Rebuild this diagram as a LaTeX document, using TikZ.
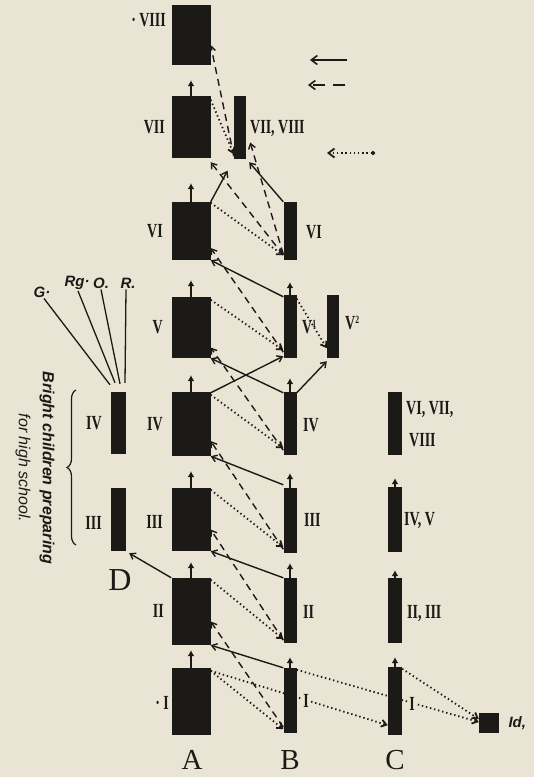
\documentclass[tikz,border=0pt]{standalone}
\usepackage{fontspec}
\setmainfont{Liberation Serif}
\newfontfamily\numfont{Liberation Serif}[FakeStretch=0.7]
\newfontfamily\notefont{Liberation Sans}
\usetikzlibrary{arrows.meta,calc,decorations.pathreplacing}
\definecolor{paper}{HTML}{E9E4D3}
\definecolor{ink}{HTML}{1C1A17}
\pgfdeclarelayer{sheet}
\pgfdeclarelayer{wires}
\pgfsetlayers{sheet,wires,main}
\newcommand{\supnum}[1]{\raisebox{6pt}{\fontsize{11}{11}\selectfont #1}}

\begin{document}
\begin{tikzpicture}[
  x=1pt,y=-1pt,
  every node/.style={text=ink},
  gradeA/.style={fill=ink,minimum width=39pt,inner sep=0pt},
  bar/.style={fill=ink,minimum width=13pt,inner sep=0pt},
  num/.style={font=\numfont\bfseries\fontsize{20}{22}\selectfont,inner sep=1pt},
  colname/.style={font=\fontsize{29}{30}\selectfont,inner sep=0pt},
  note/.style={font=\notefont\bfseries\itshape\fontsize{15}{17}\selectfont,inner sep=1pt},
  rise/.style={draw=ink,line width=1.6pt,-{Latex[length=6pt,width=7pt]}},
  linksolid/.style={draw=ink,line width=1.4pt,-{Straight Barb[length=5pt,width=7pt]}},
  linkdash/.style={linksolid,dash pattern=on 7pt off 5pt},
  linkdot/.style={linksolid,line width=1.8pt,dash pattern=on 1.4pt off 2.8pt},
  fan/.style={draw=ink,line width=1.3pt}
]

% ---- sheet ----
\useasboundingbox (0,0) rectangle (534,777);
\begin{pgfonlayer}{sheet}
  \fill[paper] (0,0) rectangle (534,777);
\end{pgfonlayer}

% ---- column A ----
\node[gradeA,minimum height=60pt] (A8) at (191,35) {};
\node[gradeA,minimum height=62pt] (A7) at (191,127) {};
\node[gradeA,minimum height=58pt] (A6) at (191,231) {};
\node[gradeA,minimum height=61pt] (A5) at (191,327.5) {};
\node[gradeA,minimum height=64pt] (A4) at (191,424) {};
\node[gradeA,minimum height=63pt] (A3) at (191,519.5) {};
\node[gradeA,minimum height=67pt] (A2) at (191,611.5) {};
\node[gradeA,minimum height=67pt] (A1) at (191,701.5) {};

\node[num,anchor=east] (lA8) at (167,20) {·\,VIII};
\node[num,anchor=east] (lA7) at (166,127) {VII};
\node[num,anchor=east] (lA6) at (164,231) {VI};
\node[num,anchor=east] (lA5) at (164,327) {V};
\node[num,anchor=east] (lA4) at (164,424) {IV};
\node[num,anchor=east] (lA3) at (164,522) {III};
\node[num,anchor=east] (lA2) at (165,611) {II};
\node[num,anchor=east] (lA1) at (170,703) {·\,I};

% ---- column B ----
\node[bar,minimum height=65pt] (B1) at (290,700.5) {};
\node[bar,minimum height=65pt] (B2) at (290,610.5) {};
\node[bar,minimum height=65pt] (B3) at (290,520.5) {};
\node[bar,minimum height=63pt] (B4) at (290,423.5) {};
\node[bar,minimum height=63pt] (B5) at (290,326.5) {};
\node[bar,minimum width=12pt,minimum height=63pt] (V2) at (333,326.5) {};
\node[bar,minimum height=58pt] (B6) at (290,231) {};
\node[bar,minimum width=12pt,minimum height=63pt] (B78) at (240,127.5) {};

\node[num,fill=paper] (lB1) at (306,701) {I};
\node[num,anchor=west] (lB2) at (302,612) {II};
\node[num,anchor=west] (lB3) at (303,520) {III};
\node[num,anchor=west] (lB4) at (302,425) {IV};
\node[num,anchor=west] (lB5) at (301,327) {V\supnum{1}};
\node[num,anchor=west] (lV2) at (344,323) {V\supnum{2}};
\node[num,anchor=west] (lB6) at (305,232) {VI};
\node[num,anchor=west] (lB78) at (249,128) {VII, VIII};

% ---- column C ----
\node[bar,minimum width=14pt,minimum height=68pt] (C1) at (395,701) {};
\node[bar,minimum width=14pt,minimum height=65pt] (C23) at (395,610.5) {};
\node[bar,minimum width=14pt,minimum height=65pt] (C45) at (395,519.5) {};
\node[bar,minimum width=14pt,minimum height=63pt] (C678) at (395,423.5) {};
\node[bar,minimum width=20pt,minimum height=20pt] (Id) at (489,723) {};

\node[num,fill=paper] (lC1) at (412,704) {I};
\node[num,anchor=west] (lC23) at (406,613) {II, III};
\node[num,anchor=west] (lC45) at (403,520) {IV, V};
\node[num,anchor=west,align=left] (lC678) at (405,424) {VI, VII,\\[10pt]\hspace*{3pt}VIII};
\node[font=\notefont\bfseries\itshape\fontsize{15}{17}\selectfont,anchor=west] (lId) at (505,723) {Id,};

% ---- column D ----
\node[bar,minimum width=15pt,minimum height=62pt] (D4) at (118.5,423) {};
\node[bar,minimum width=15pt,minimum height=63pt] (D3) at (118.5,519.5) {};
\node[num,anchor=east] (lD4) at (103,423) {IV};
\node[num,anchor=east] (lD3) at (103,523) {III};

\node[note] (lG) at (42,292) {G·};
\node[note] (lRg) at (77,283) {Rg·};
\node[note] (lO) at (101,283) {O.};
\node[note] (lR) at (128,283) {R.};

\draw[fan] ([xshift=2pt]lG.south) -- ([xshift=-8.5pt,yshift=7pt]D4.north);
\draw[fan] ([xshift=1pt]lRg.south) -- ([xshift=-3.5pt,yshift=9pt]D4.north);
\draw[fan] (lO.south) -- ([xshift=1.5pt,yshift=8pt]D4.north);
\draw[fan] ([xshift=-2pt]lR.south) -- ([xshift=6.5pt,yshift=9pt]D4.north);

\draw[decorate,decoration={brace,amplitude=9pt},line width=1.2pt,ink]
  (76,545) -- (76,390);
\node[font=\notefont\bfseries\itshape\fontsize{16}{24}\selectfont,rotate=-90,align=center]
  (bright) at (35,468) {Bright children preparing\\{\mdseries for high school.}};

% ---- column letters ----
\node[colname] (colA) at (192,760) {A};
\node[colname] (colB) at (290,760) {B};
\node[colname] (colC) at (395,760) {C};
\node[colname,font=\fontsize{32}{33}\selectfont] (colD) at (120,580) {D};

% ---- key ----
\coordinate (keyS1) at (347,60);  \coordinate (keyS0) at (310,60);
\coordinate (keyD1) at (345,85);  \coordinate (keyD0) at (308,85);
\coordinate (keyT1) at (375,153); \coordinate (keyT0) at (327,153);

% ---- moves between grades ----
\begin{pgfonlayer}{wires}
% upward steps
\foreach \lo/\hi/\s in {A1/A2/5,A2/A3/11,A3/A4/15,A4/A5/17,A5/A6/20,A6/A7/25,A7/A8/15,
                        B1/B2/14,B2/B3/10,B3/B4/18,B4/B5/20,B5/B6/22,
                        C1/C23/14,C23/C45/18,C45/C678/23}
  \draw[rise,shorten >=\s pt] (\lo.north) -- (\hi.south);

% grade I
\draw[linkdot] ([yshift=-3pt]A1.north east) -- ([yshift=10pt]C1.south west);
\draw[linkdot] ([yshift=-3pt]A1.north east) -- ([yshift=4pt]B1.south west);
\draw[linkdash] ([yshift=6pt]B1.south west) -- ([yshift=-10pt]A2.east);
\draw[linksolid] (B1.north west) -- (A2.south east);
\draw[linkdot] ([yshift=-2pt]B1.north east) -- ([yshift=1pt]Id.west);
\draw[linkdot] ([yshift=-2pt]C1.north east) -- ([yshift=4pt]Id.west);

% grade II
\draw[linkdot] ([yshift=-2pt]A2.north east) -- ([yshift=4pt]B2.south west);
\draw[linkdash] ([yshift=3pt]B2.south west) -- ([yshift=-10pt]A3.east);
\draw[linksolid] (B2.north west) -- (A3.south east);
\draw[linksolid] (A2.north west) -- ([xshift=3pt,yshift=-2pt]D3.south east);

% grade III
\draw[linkdot] ([yshift=-2pt]A3.north east) -- ([yshift=6pt]B3.south west);
\draw[linkdash] ([yshift=4pt]B3.south west) -- ([yshift=-17pt]A4.east);
\draw[linksolid] ([yshift=3pt]B3.north west) -- (A4.south east);

% grade IV
\draw[linkdot] ([yshift=-3pt]A4.north east) -- ([yshift=7pt]B4.south west);
\draw[linkdash] ([yshift=5pt]B4.south west) -- ([yshift=-20pt]A5.east);
\draw[linksolid] ([yshift=-1pt]B4.north west) -- (A5.south east);
\draw[linksolid] ([yshift=-1pt]A4.north east) -- ([yshift=2pt]B5.south west);
\draw[linksolid] ([yshift=-1pt]B4.north east) -- ([yshift=-3pt]V2.south west);

% grade V
\draw[linkdot] ([yshift=-3pt]A5.north east) -- ([yshift=8pt]B5.south west);
\draw[linkdash] ([yshift=6pt]B5.south west) -- ([yshift=-17pt]A6.east);
\draw[linksolid] ([yshift=-2pt]B5.north west) -- (A6.south east);
\draw[linkdot] ([yshift=-4pt]B5.north east) -- ([yshift=10pt]V2.south west);

% grade VI
\draw[linkdot] ([yshift=-1pt]A6.north east) -- ([yshift=5pt]B6.south west);
\draw[linksolid,shorten >=13pt] (A6.north east) -- (B78.south west);
\draw[linkdash] ([yshift=5pt]B6.south west) -- ([yshift=-4pt]A7.south east);
\draw[linkdash] ([yshift=6pt]B6.south west) -- ([xshift=4pt,yshift=-15pt]B78.east);
\draw[linksolid] (B6.north west) -- ([xshift=3pt,yshift=-3pt]B78.south east);

% grade VII
\draw[linkdot] ([yshift=-4pt]A7.north east) -- ([yshift=5pt]B78.south west);
\draw[linkdash] ([yshift=3pt]B78.south west) -- ([yshift=-10pt]A8.east);

% key
\draw[linksolid,line width=1.6pt,-{Straight Barb[length=6pt,width=9pt]}] (keyS1) -- (keyS0);
\draw[linkdash,line width=1.6pt,dash pattern=on 12pt off 8pt,-{Straight Barb[length=6pt,width=9pt]}] (keyD1) -- (keyD0);
\draw[linkdot,{Circle[length=4pt]}-{Straight Barb[length=6pt,width=9pt]}] (keyT1) -- (keyT0);
\end{pgfonlayer}

\end{tikzpicture}
\end{document}
